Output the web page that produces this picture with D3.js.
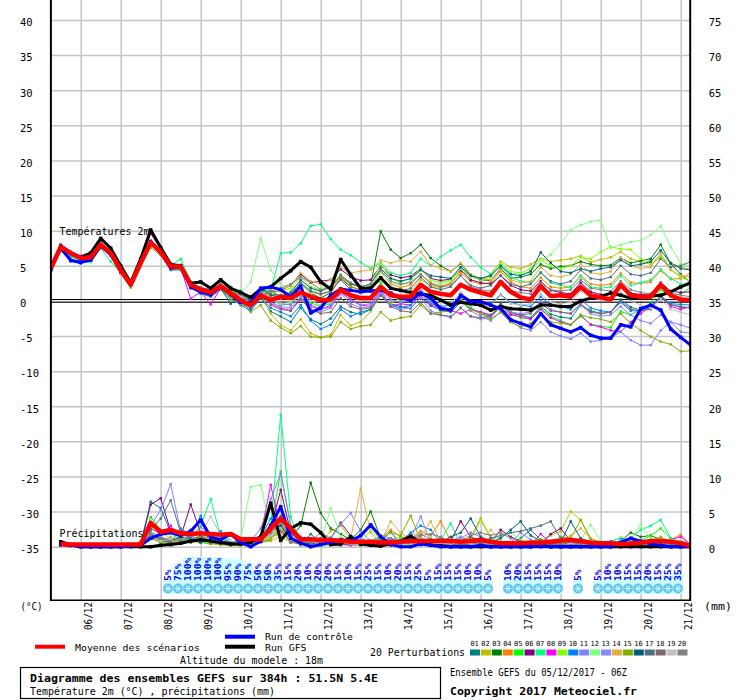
<!DOCTYPE html>
<html>
<head>
<meta charset="utf-8">
<script src="https://cdn.jsdelivr.net/npm/d3@7"></script>
<style>
html,body{margin:0;padding:0;background:#fff;}
svg{display:block;}
text{font-family:"DejaVu Sans Mono",monospace;}
</style>
</head>
<body>
<svg id="chart" width="740" height="700"></svg>
<script>
// ---------- categories / ticks ----------
const dayLabels = ["06/12","07/12","08/12","09/12","10/12","11/12","12/12","13/12","14/12","15/12","16/12","17/12","18/12","19/12","20/12","21/12"];
const dayTickHours = [18,42,66,90,114,138,162,186,210,234,258,282,306,330,354,378];
const tempTicks = [40,35,30,25,20,15,10,5,0,-5,-10,-15,-20,-25,-30,-35];
const precTicks = [75,70,65,60,55,50,45,40,35,30,25,20,15,10,5,0];
const memberLabels = ["01","02","03","04","05","06","07","08","09","10","11","12","13","14","15","16","17","18","19","20"];
const memberColors = ["#008080","#c0c000","#008000","#ff8000","#00ff00","#800080","#00ff80","#ff00ff","#80ff00","#0080ff","#8080ff","#80ff80","#8888ff","#e0b040","#80b000","#006080","#507080","#806870","#c0c0c0","#808080"];
const stepHours = 6;

// ---------- temperature 2m (°C), every 6 h from 05/12 06Z ----------
const tempMean = [4.6,7.7,6.8,6.1,6.2,8.0,6.8,4.4,2.3,5.4,8.3,7.0,4.9,4.9,2.3,1.6,1.2,2.1,1.1,0.1,-0.6,0.8,0.1,0.6,0.4,1.2,0.6,0.1,0.2,1.6,0.8,0.4,0.4,2.0,0.8,0.6,0.6,2.3,1.3,1.0,0.8,2.3,1.6,1.2,0.8,2.7,1.3,0.5,0.2,2.1,0.7,0.8,0.6,2.0,0.8,0.5,0.2,2.3,0.8,0.6,0.6,2.3,0.8,0.2,0.1];
const tempGFS = [4.4,7.8,6.8,6.2,6.8,8.9,7.5,5.0,2.6,6.0,10.1,7.6,5.2,5.0,2.5,2.7,1.8,3.0,1.8,1.2,0.5,1.7,2.0,3.2,4.3,5.6,4.8,2.7,1.7,5.9,3.7,1.8,1.8,3.3,1.8,1.5,1.2,1.0,0.8,0.1,-0.6,-0.2,-0.4,-0.6,-1.3,-0.8,-1.1,-1.2,-1.3,-0.6,-0.6,-0.8,-0.8,0.0,0.4,0.6,1.1,0.8,0.4,0.4,0.7,0.8,1.3,2.0,2.6];
const tempControl = [4.5,7.5,5.8,5.5,5.8,7.8,6.6,4.2,2.4,5.6,8.4,6.9,4.7,4.8,2.0,1.3,0.9,2.0,0.9,-0.2,-0.3,1.8,2.0,1.6,0.6,2.1,-1.7,-1.0,0.8,1.7,1.5,1.3,1.4,1.55,1.1,0.4,0.1,1.1,0.4,-1.1,-1.3,0.8,-0.1,-0.1,-0.6,-1.1,-2.7,-3.2,-3.7,-1.8,-3.4,-3.9,-4.4,-3.8,-4.9,-5.3,-5.3,-3.4,-3.7,-1.1,-0.6,-1.3,-4.0,-5.2,-6.3];
const tP01 = [4.3,7.4,6.6,5.9,6.0,7.8,6.6,4.2,2.2,5.2,8.1,6.7,4.6,4.5,2.0,1.2,0.8,1.8,0.6,-0.3,-1.2,0.5,-1.5,-2.2,-3.0,-1.0,-2.6,-3.3,-2.5,-0.8,-1.6,-1.9,-1.2,0.9,-0.4,-0.8,-1.1,0.5,-0.7,-1.3,-1.6,-0.2,-1.0,-1.8,-2.2,-0.4,-1.6,-2.0,-2.4,-0.8,-1.9,-2.3,-2.5,-0.6,-1.4,-1.8,-1.6,0.2,-0.9,-1.3,-1.0,0.8,-0.5,-0.9,-1.0];
const tP02 = [4.8,7.9,6.9,6.3,6.4,8.2,7.0,4.6,2.4,5.6,8.6,7.2,5.0,5.1,2.6,1.8,1.4,2.3,1.5,0.4,-0.8,1.0,-1.8,-3.4,-4.2,-2.6,-4.6,-5.2,-4.8,-2.0,-3.5,-3.0,-1.5,0.8,-0.4,0.5,1.4,3.0,2.2,1.8,2.6,4.2,3.6,3.0,3.8,5.6,4.8,4.6,5.2,6.0,5.6,5.8,6.0,6.4,5.5,5.9,6.2,7.0,6.0,5.6,5.2,6.2,5.4,4.8,4.5];
const tP03 = [4.5,7.6,6.8,6.2,6.5,8.1,6.9,4.5,2.5,5.5,8.2,7.3,5.1,5.0,2.5,1.7,1.5,2.2,1.3,1.0,0.2,1.3,1.4,0.6,0.8,2.5,1.1,0.4,1.2,3.2,2.0,1.6,2.2,9.9,7.3,6.1,6.8,8.0,6.1,5.0,4.2,5.3,3.6,3.0,2.9,4.6,3.2,3.4,3.8,5.2,4.6,4.9,5.0,5.6,5.2,5.0,5.1,6.1,5.4,5.7,6.0,8.0,5.3,3.8,2.6];
const tP04 = [4.7,7.8,6.5,5.8,6.1,7.9,6.4,3.9,1.9,5.3,8.0,6.9,4.6,4.8,2.2,1.5,1.0,1.9,0.9,0.2,-0.4,1.2,0.6,0.3,0.9,2.5,1.3,0.9,1.4,3.4,2.1,1.5,1.8,4.2,2.4,1.9,2.3,3.8,2.6,2.1,2.5,4.0,2.8,2.4,2.6,4.2,2.7,2.0,1.8,3.3,2.0,1.8,2.0,3.6,2.4,2.2,2.4,3.9,2.6,2.5,2.7,4.3,3.1,3.2,4.0];
const tP05 = [4.4,7.5,6.9,6.3,6.6,8.3,7.1,4.6,2.4,5.8,8.4,7.2,5.1,4.9,2.1,1.4,1.1,2.0,0.8,0.3,-0.5,0.8,0.3,-0.6,-0.4,1.2,-0.3,-0.8,-0.4,1.6,0.5,0.2,0.4,2.6,0.8,0.1,0.3,1.4,-0.2,-0.8,-1.2,0.4,-1.1,-1.6,-2.0,-0.6,-1.8,-2.4,-2.6,-1.0,-2.2,-2.8,-3.4,-2.2,-3.3,-3.6,-3.8,-1.5,-2.0,-1.2,-0.4,1.6,0.6,1.0,1.9];
const tP06 = [4.6,7.7,7.0,6.4,6.9,8.1,7.2,4.8,2.6,5.6,8.5,7.4,5.2,4.7,2.4,1.9,1.6,2.4,1.2,0.5,0.0,0.9,1.2,1.5,2.2,3.8,2.6,2.8,3.0,4.5,3.4,2.9,3.0,5.0,3.7,3.3,3.5,4.6,3.2,2.9,3.1,4.4,3.0,2.6,2.4,3.6,2.2,1.6,1.4,2.8,1.5,1.2,1.0,2.6,1.3,0.9,1.0,2.3,1.1,0.9,1.0,2.6,1.4,1.2,1.3];
const tP07 = [4.9,7.6,6.3,5.7,5.5,7.5,5.6,4.0,2.0,5.7,8.0,6.8,5.0,6.0,2.8,1.9,1.4,2.5,1.4,1.5,0.4,1.4,1.6,6.8,6.9,8.2,10.7,10.9,8.8,7.3,6.5,5.5,4.6,5.4,4.0,3.6,4.0,6.0,5.0,6.3,7.2,8.0,6.2,4.8,3.8,5.0,3.4,2.8,2.6,4.1,2.6,2.2,2.0,3.5,2.0,1.8,2.0,3.6,2.2,2.6,3.0,4.5,3.2,2.4,2.0];
const tP08 = [4.5,7.8,6.7,6.2,6.3,8.4,7.0,4.3,2.2,5.7,9.6,7.4,4.8,4.7,0.3,1.3,-0.5,1.8,0.9,-0.3,-0.9,1.0,-0.4,-1.0,-1.4,0.4,-0.6,-1.2,-0.8,1.2,0.2,-0.6,-0.8,1.6,-0.8,-0.4,-0.6,0.8,-0.6,-1.0,-1.4,-1.8,-1.2,-1.6,-2.0,-1.0,-2.0,-2.2,-2.6,-1.2,-2.4,-3.0,-3.4,-2.0,-3.4,-3.7,-4.2,-4.4,-3.0,-1.8,-0.8,0.6,-0.8,-1.2,-0.8];
const tP09 = [4.7,7.7,6.6,6.0,6.2,7.9,6.7,4.4,2.3,5.4,8.3,6.9,4.9,4.8,2.3,1.6,1.2,2.2,1.6,0.9,0.2,1.0,1.1,1.4,1.8,3.4,2.0,1.6,2.0,3.8,2.4,2.0,2.4,5.2,3.2,2.6,3.2,4.6,3.0,2.6,3.0,4.8,3.4,3.0,3.4,5.4,4.2,4.0,4.6,5.8,5.0,4.6,5.0,6.2,6.0,7.0,7.7,7.4,7.3,6.0,5.4,6.4,4.4,3.4,2.7];
const tP10 = [4.2,7.3,5.6,5.3,5.9,7.7,6.5,4.1,2.1,5.1,8.0,6.6,4.4,4.4,1.9,1.0,0.6,1.6,0.3,-0.6,-1.4,0.4,-1.0,-1.6,-2.2,-0.6,-2.8,-4.0,-3.4,-1.2,-2.2,-1.6,-1.2,1.0,-0.6,-1.0,-0.6,1.2,-0.4,-0.8,-0.6,0.8,-0.4,-0.6,-0.4,0.9,-0.2,-0.6,-0.8,0.6,-0.6,-0.8,-1.2,0.2,-1.0,-1.4,-1.6,-0.2,-1.4,-1.4,-0.8,0.6,-0.4,-0.5,-0.6];
const tP11 = [4.8,8.1,7.1,6.3,6.4,8.2,6.9,4.5,2.3,5.5,8.4,7.1,5.0,5.0,2.2,1.4,1.0,2.0,0.7,0.2,-0.8,1.4,0.2,-0.4,-0.6,1.0,-0.8,-1.2,-0.6,1.4,0.0,-0.6,-0.4,1.6,0.2,-0.2,0.0,1.4,-0.2,-0.8,-1.2,0.2,-1.4,-2.2,-2.8,-1.6,-3.0,-3.8,-4.2,-3.0,-4.4,-5.0,-5.4,-4.6,-5.8,-5.6,-5.2,-4.4,-5.6,-6.3,-6.3,-4.2,-3.0,-3.4,-3.9];
const tP12 = [4.6,7.8,6.7,6.0,5.6,7.9,6.5,4.2,2.1,5.2,8.1,6.8,4.7,5.2,2.4,1.8,1.5,2.3,2.0,1.0,2.7,8.9,4.4,2.4,1.6,2.6,1.0,1.8,2.0,3.6,2.4,2.0,2.2,4.0,2.6,2.2,2.8,4.4,3.0,2.4,2.8,4.6,3.4,3.2,3.6,5.2,4.0,3.8,4.2,5.8,6.6,8.2,10.1,10.8,11.3,11.5,7.5,8.0,8.4,8.6,9.4,10.6,7.7,5.4,4.9];
const tP13 = [4.9,8.0,6.9,6.1,6.3,8.0,6.8,4.4,2.4,5.5,8.2,7.0,4.9,4.8,2.3,1.6,1.3,2.1,1.1,0.0,-0.6,1.2,-0.2,-0.8,-1.0,0.6,-1.2,-1.6,-1.0,1.0,-0.4,-1.0,-0.8,1.2,-0.6,-1.2,-1.0,0.4,-1.4,-2.0,-2.4,-1.0,-2.2,-2.6,-2.4,-0.8,-1.6,-1.8,-1.6,0.0,-1.2,-1.6,-1.8,-0.6,-1.8,-2.2,-2.0,-0.8,-2.0,-2.8,-3.2,-2.0,-3.0,-4.4,-4.6];
const tP14 = [4.6,7.7,6.8,6.2,6.2,8.1,6.9,3.8,2.2,5.3,8.0,7.0,4.7,4.6,2.0,1.5,1.2,1.7,0.5,1.2,0.6,1.8,1.8,1.6,2.2,4.0,2.8,2.4,3.0,4.8,4.0,4.2,4.4,5.8,5.4,5.8,5.6,7.0,5.1,4.6,4.2,5.4,3.8,3.2,3.0,4.4,3.0,2.6,2.8,4.8,3.6,3.4,3.8,5.2,4.0,3.8,4.2,6.2,5.0,4.6,4.8,6.8,4.4,3.6,3.4];
const tP15 = [4.4,7.6,6.7,6.1,6.1,7.8,6.7,4.3,2.2,5.0,7.6,6.5,4.5,4.5,2.0,1.3,0.9,1.9,0.2,-0.4,-1.6,-0.6,-2.8,-3.8,-4.6,-3.6,-5.1,-5.2,-5.1,-3.0,-4.0,-3.6,-3.4,-1.6,-2.8,-2.4,-2.2,-0.6,-1.8,-1.6,-1.4,0.0,-1.2,-1.8,-2.6,-1.6,-3.0,-3.7,-3.2,-2.0,-3.0,-3.2,-3.4,-2.0,-2.4,-2.6,-3.0,-1.8,-3.2,-4.2,-5.1,-5.8,-6.2,-7.2,-7.1];
const tP16 = [4.3,7.5,6.5,5.9,6.3,7.9,6.6,4.3,2.3,5.3,8.2,6.9,4.8,4.7,1.8,1.2,0.8,1.8,-0.4,0.6,0.0,1.8,0.8,0.6,1.2,3.0,1.8,1.4,2.0,3.6,2.4,2.0,2.4,4.6,3.2,2.8,3.2,4.4,3.6,3.4,3.2,4.8,3.6,3.2,3.6,5.0,3.8,3.6,4.2,6.9,5.4,4.2,4.0,4.6,4.2,4.6,4.8,5.8,5.0,5.2,5.6,7.2,5.4,4.6,4.4];
const tP17 = [4.5,7.6,6.6,6.0,6.1,8.0,6.8,4.4,2.3,5.4,8.3,7.0,4.9,4.9,2.3,1.6,1.2,2.0,1.0,0.8,0.2,1.0,1.0,0.8,1.0,2.6,1.4,1.0,1.4,3.0,1.6,1.2,1.6,3.2,1.8,1.4,1.8,3.4,2.0,1.6,2.0,3.6,2.2,1.8,2.2,3.6,2.4,2.0,2.4,4.0,2.8,2.4,2.8,4.4,3.2,3.0,3.4,5.0,3.8,3.6,4.0,6.0,4.8,5.0,5.6];
const tP18 = [4.7,7.9,6.8,6.2,6.5,8.2,7.1,4.7,2.5,5.6,8.6,7.3,5.2,5.1,2.6,1.9,1.5,2.4,1.4,-0.2,-0.8,1.0,-0.6,-1.2,-1.4,0.2,-1.2,-1.8,-1.6,0.4,-0.8,-1.2,-1.0,0.8,-0.8,-1.4,-1.6,-0.2,-1.8,-2.0,-2.2,-1.0,-2.2,-2.4,-2.2,-0.6,-1.8,-2.0,-1.8,-0.4,-1.4,-1.6,-1.8,-0.4,-1.6,-1.8,-1.6,0.0,-1.2,-1.4,-1.2,0.6,-0.6,-0.8,-1.0];
const tP19 = [4.6,7.8,7.0,6.3,6.4,8.1,6.9,4.6,2.4,5.4,8.4,7.1,5.0,4.9,2.4,1.7,1.3,2.2,1.2,0.6,-0.2,1.4,0.2,-0.4,-0.2,1.6,0.0,-0.6,-0.2,1.8,0.6,0.0,0.2,2.2,0.8,0.4,0.6,1.8,0.2,-0.2,-0.4,1.2,0.0,-0.4,-0.6,0.8,-0.4,-0.6,-0.4,1.0,-0.2,-0.4,-0.2,1.4,0.4,0.2,0.0,1.2,0.0,-0.6,-1.0,0.2,-1.2,-1.6,-2.0];
const tP20 = [4.3,7.4,6.6,6.0,6.2,8.3,7.0,4.5,2.2,5.2,8.1,6.8,4.7,5.0,2.2,1.9,1.1,2.3,1.3,0.9,0.4,1.2,1.4,1.8,2.4,3.4,2.6,1.6,1.8,3.6,2.6,2.0,2.4,4.4,2.8,2.4,2.6,3.8,2.4,2.0,2.2,3.6,2.0,1.6,1.4,2.8,1.4,1.2,1.0,2.6,1.6,1.4,1.6,3.0,1.8,1.6,1.4,2.8,1.6,1.2,1.0,2.6,1.2,0.8,0.6];

// ---------- 6 h precipitation (mm), from 05/12 12Z ----------
const precFirstHour = 6;
const precMean = [0.4,0.3,0.3,0.3,0.3,0.3,0.3,0.3,0.3,3.4,2.1,2.4,1.9,1.8,1.9,1.8,1.7,1.8,1.05,1.05,1.05,2.6,4.0,2.6,1.05,1.05,0.95,0.95,0.85,0.7,0.7,0.7,0.6,0.6,0.7,0.8,0.8,0.8,0.8,0.8,0.7,0.8,0.95,0.7,0.5,0.5,0.5,0.55,0.55,0.7,0.85,0.95,0.8,0.55,0.5,0.5,0.4,0.45,0.55,0.8,0.8,0.7,0.5,0.1];
const precGFS = [0.7,0.3,0,0,0,0,0,0,0,0,0.2,0.3,0.5,0.8,1.0,0.8,0.6,0.4,0.4,0.6,1.4,6.2,0.9,2.6,3.4,3.2,2.0,0.3,0.4,1.4,0.4,0.2,0.1,0.4,0.8,1.5,0.6,0.2,0.1,0,0,0,0,0,0,0,0,0,0.2,0,0,0,0,0,0,0,0,0,0,0,0,0,0,0];
const precControl = [0.3,0.2,0,0,0,0,0,0.1,0.2,1.2,1.8,2.0,1.6,2.2,3.8,1.4,1.0,1.8,0.6,0.0,0.8,3.0,5.7,1.2,0.5,0.0,0.3,0.6,1.0,0.8,1.6,3.1,1.4,0.3,0.0,0.0,0.4,0.2,0.0,0.0,0,0,0.2,0,0,0,0,0,0,0,0,0,0,0,0,0,0.6,1.2,0.8,0.4,0.2,0,0,0];
const pP01 = [0.3,0.2,0.1,0,0,0,0,0,0.4,6.4,5.5,2.0,1.2,1.0,1.6,0.8,1.2,0.6,0.4,0.3,0.6,1.0,2.6,1.2,0.2,1.8,0.6,0.3,0.2,0.8,0.4,0.2,0.8,2.1,0.4,0.3,0.6,0.2,0.1,0.3,0.2,0.6,1.0,0.8,0.6,0.4,1.2,2.4,1.0,0.6,0.4,0.6,0.2,0.3,0.1,0.2,0.3,0.6,0.4,0.2,0.1,0.2,0.4,0.1];
const pP02 = [0.2,0.1,0,0,0,0,0,0,0.6,1.6,1.2,0.4,1.4,0.8,0.6,0.9,0.3,0.2,0.1,0.4,0.6,0.8,1.5,0.6,1.4,0.8,0.6,2.2,3.0,1.2,0.4,0.6,0.3,1.0,1.4,0.6,0.3,0.8,0.4,0.5,1.4,0.8,0.4,0.2,0.3,0.6,0.4,0.3,0.8,1.6,2.2,5.0,3.8,1.2,0.6,0.4,0.6,0.4,0.2,0.3,0.5,0.2,0.4,0.1];
const pP03 = [0.3,0.2,0,0,0,0,0,0,0.2,1.8,0.8,0.6,2.4,1.0,1.4,0.6,0.4,0.2,0.3,0.5,1.0,2.8,3.0,1.2,3.0,9.1,4.8,2.6,1.8,1.0,2.4,5.0,1.2,0.8,0.4,0.6,0.2,0.5,0.3,0.2,0.4,1.2,0.6,0.3,0.2,0.4,0.2,0.5,0.3,0.4,0.6,0.3,0.2,0.4,0.3,0.6,0.8,2.0,1.4,1.6,1.0,0.6,0.3,0.1];
const pP04 = [0.2,0.1,0,0,0,0,0,0,0.1,1.2,0.8,1.4,1.0,2.4,1.2,1.8,0.6,0.4,0.2,0.3,0.8,1.6,3.4,1.0,0.3,0.2,0.6,0.4,0.3,0.6,0.8,0.4,1.2,2.4,1.4,1.2,2.2,1.6,3.6,0.8,0.6,1.4,4.0,1.2,0.6,0.4,0.3,0.2,0.1,0.2,0.4,0.3,0.2,0.1,0.2,0.3,0.4,0.6,0.3,0.5,0.8,1.0,1.7,0.2];
const pP05 = [0.3,0.2,0,0,0,0,0,0,0.2,4.2,2.4,1.0,0.8,1.2,0.6,0.4,0.8,0.5,0.3,0.6,1.2,2.4,10.7,3.0,0.4,0.6,0.2,0.3,0.5,0.4,0.2,0.6,0.3,0.2,0.4,0.6,0.3,0.2,0.4,0.3,0.2,0.3,0.5,0.4,0.6,0.3,0.2,0.3,0.4,0.2,0.6,0.3,0.2,0.4,0.3,0.2,0.5,1.0,0.8,1.6,2.6,1.2,0.4,0.2];
const pP06 = [0.2,0.1,0,0,0,0,0,0,0.3,6.0,6.9,2.2,1.4,6.0,2.0,1.2,1.0,1.6,0.6,0.4,1.2,2.6,8.1,2.0,0.6,0.4,0.8,1.2,3.4,1.6,0.6,0.4,0.8,1.2,0.6,0.4,1.0,0.6,1.2,0.8,3.6,1.4,0.8,0.6,2.4,1.4,0.8,0.6,0.4,1.8,2.6,0.8,0.4,0.3,0.2,0.5,0.3,0.2,0.4,0.3,0.6,0.4,0.8,0.3];
const pP07 = [0.3,0.2,0,0,0,0,0,0,0.4,3.4,1.6,2.0,0.8,1.2,3.0,6.8,1.4,0.8,0.6,1.0,1.6,3.0,18.8,4.2,0.6,0.4,0.8,1.4,0.6,0.4,0.5,0.3,0.6,0.4,1.2,0.8,1.4,0.6,1.0,3.3,0.3,0.6,0.4,0.3,0.2,0.4,0.3,0.2,0.3,0.5,0.4,0.6,0.3,0.2,0.4,0.6,0.8,1.2,2.4,3.0,3.8,1.2,0.6,0.2];
const pP08 = [0.2,0.1,0,0,0,0,0,0,0.3,2.6,1.8,3.0,0.8,1.6,0.6,1.2,0.8,0.6,0.4,0.8,1.6,8.8,2.4,1.0,0.6,0.8,0.4,0.6,0.3,0.2,0.4,0.6,0.3,0.2,0.4,0.3,0.6,0.8,0.4,0.2,0.3,0.6,0.4,0.2,0.3,0.4,0.3,0.2,1.8,0.6,0.3,0.2,0.4,0.3,0.2,0.4,0.3,0.2,0.4,0.6,0.8,1.0,1.4,0.3];
const pP09 = [0.3,0.2,0,0,0,0,0,0,0.5,2.2,1.4,0.8,1.0,0.6,1.2,0.8,0.4,0.3,0.6,0.4,0.8,1.6,2.8,1.0,0.8,0.6,0.4,0.6,1.0,0.8,0.6,2.4,1.0,0.6,0.4,0.3,0.8,1.2,0.6,0.4,0.4,1.0,3.8,1.2,0.6,0.3,0.2,0.4,0.6,0.8,0.6,0.4,0.3,0.5,0.6,0.4,0.3,0.5,0.8,0.4,0.6,1.0,0.8,0.2];
const pP10 = [0.3,0.1,0,0,0,0,0,0,0.2,1.6,1.2,0.6,2.6,1.6,4.4,1.2,2.2,0.8,0.4,0.6,1.4,4.0,5.4,1.6,0.4,0.8,1.2,0.6,0.4,1.6,0.8,0.3,1.4,0.6,0.8,2.0,3.0,2.4,0.6,0.3,0.2,0.4,0.6,0.3,0.2,0.4,0.6,0.3,0.2,0.3,0.4,0.2,0.3,0.6,0.4,0.8,1.2,1.0,0.6,0.4,0.3,0.5,0.4,0.1];
const pP11 = [0.2,0.1,0,0,0,0,0,0,0.4,3.0,5.2,8.9,2.2,1.4,2.8,1.6,0.8,0.6,1.0,0.8,2.6,6.8,10.4,3.0,1.4,0.8,2.0,1.2,3.2,4.8,2.2,0.8,1.6,1.2,0.8,1.2,1.8,1.0,0.6,0.4,1.2,2.0,1.4,0.8,0.6,0.4,0.3,0.2,0.4,0.6,0.8,0.4,0.3,0.2,0.4,0.3,0.2,0.3,0.4,0.6,0.8,0.4,0.3,0.1];
const pP12 = [0.3,0.2,0,0,0,0,0,0,0.4,3.6,2.0,1.2,1.6,0.8,2.0,1.0,0.6,0.4,1.2,8.5,8.8,2.4,1.2,0.8,1.2,0.8,0.6,5.5,1.4,0.8,0.6,0.4,0.4,0.6,0.3,0.2,0.5,0.4,0.6,0.8,0.4,0.3,0.6,0.8,1.4,2.0,1.0,0.6,0.8,0.6,0.4,0.3,1.0,3.1,0.8,0.6,1.4,1.0,3.1,1.2,0.8,0.4,0.3,0.2];
const pP13 = [0.2,0.1,0,0,0,0,0,0,0.3,2.0,1.4,1.0,0.8,1.8,0.6,1.0,0.6,0.4,0.3,0.5,1.0,2.4,3.6,1.4,0.8,0.6,0.4,0.3,0.6,1.4,1.2,0.6,0.4,0.3,0.6,1.2,4.3,0.6,0.4,0.8,1.4,0.6,0.4,0.3,0.2,0.6,2.0,1.0,0.4,0.3,0.2,0.3,0.5,0.4,0.2,0.3,0.4,0.6,0.3,0.2,0.4,0.6,0.3,0.1];
const pP14 = [0.3,0.2,0,0,0,0,0,0,0.2,1.4,0.8,1.2,0.6,2.4,1.0,0.8,0.4,0.3,0.2,0.3,0.6,1.2,2.0,0.8,0.4,0.6,0.3,0.5,0.8,1.2,8.3,2.0,0.6,3.6,2.0,1.0,1.4,3.6,0.6,0.4,0.3,0.6,1.0,2.4,0.8,0.4,0.3,0.2,0.4,0.6,0.8,1.6,2.6,1.2,0.6,0.4,0.3,0.6,0.4,0.8,1.2,0.6,0.4,0.1];
const pP15 = [0.2,0.1,0,0,0,0,0,0,0.8,1.2,0.6,0.4,1.0,0.6,0.8,0.4,0.3,0.2,0.4,0.3,0.6,1.4,2.2,0.8,0.6,0.4,0.8,0.6,1.0,0.6,0.4,0.8,1.2,2.0,1.6,4.4,0.8,0.6,0.4,0.3,0.2,0.4,0.6,0.3,0.2,0.4,0.6,0.8,1.0,0.6,1.4,1.2,3.8,1.0,0.6,0.4,0.3,0.4,0.6,0.8,1.4,0.6,0.3,0.1];
const pP16 = [0.3,0.2,0,0,0,0,0,0,0.2,1.8,1.2,0.8,1.4,1.0,0.6,1.2,0.8,0.6,1.0,0.4,1.2,2.2,3.0,1.0,0.6,0.4,0.8,0.6,0.4,0.3,0.6,0.4,0.8,0.6,0.4,1.2,0.6,1.0,0.6,1.4,2.0,4.0,1.4,0.6,1.2,2.4,3.6,1.6,0.8,0.4,0.6,3.6,1.2,0.6,0.3,0.2,0.4,0.6,0.4,0.8,0.6,0.4,0.2,0.1];
const pP17 = [0.3,0.2,0,0,0,0,0,0,0.4,2.4,4.0,6.6,2.0,1.2,0.8,1.6,0.6,0.4,0.3,0.8,1.4,2.6,4.4,1.2,0.8,0.6,0.4,0.3,0.6,0.4,0.8,0.6,0.4,0.3,0.6,0.8,0.4,0.3,0.6,0.4,0.3,0.4,0.8,1.2,1.6,2.0,2.2,2.6,3.0,3.6,1.2,0.6,0.4,0.3,0.2,0.4,0.6,0.4,0.3,0.5,0.8,0.4,0.2,0.1];
const pP18 = [0.2,0.1,0,0,0,0,0,0,0.6,1.6,1.0,0.6,0.4,0.8,1.2,0.6,0.4,0.3,0.6,0.8,1.0,1.8,2.4,0.6,0.4,0.3,0.6,0.8,0.4,0.3,0.2,0.4,0.3,0.2,0.4,0.6,0.3,0.5,0.4,0.2,0.3,0.4,0.6,0.8,0.6,0.4,0.3,0.2,0.2,0.4,0.3,0.6,0.8,0.5,0.3,0.2,0.3,0.5,0.4,0.3,0.6,0.8,0.4,0.1];
const pP19 = [0.3,0.2,0,0,0,0,0,0,0.4,1.4,0.8,1.0,0.6,2.2,1.8,4.3,1.6,0.8,0.5,0.4,0.8,1.6,2.6,1.0,0.6,0.8,0.4,0.3,0.6,0.4,0.3,0.6,0.5,0.4,0.3,0.6,0.4,0.3,0.5,0.4,0.6,0.4,0.3,0.5,0.8,0.6,0.4,0.3,0.4,0.6,0.8,0.4,0.3,0.2,0.3,0.5,0.6,0.4,0.5,0.3,0.6,0.4,0.3,0.1];
const pP20 = [0.3,0.2,0,0,0,0,0,0,0.3,1.8,1.2,0.8,1.0,0.6,1.4,0.8,0.6,0.4,0.8,1.0,1.4,2.0,3.4,1.2,0.8,0.6,0.4,0.6,0.8,0.5,0.4,0.3,0.4,0.6,0.3,1.0,1.6,1.8,1.4,0.6,0.8,1.6,2.0,1.6,2.0,1.2,0.8,0.6,0.4,0.6,0.3,0.2,0.4,0.3,0.2,0.3,0.4,0.3,0.2,0.4,0.6,0.3,0.2,0.1];

// ---------- snow probability (%) from 72 h ----------
const snowFirstHour = 72;
const snowPct = [5,75,100,100,100,100,95,90,75,50,50,35,15,20,10,20,20,15,10,15,25,15,10,20,15,25,5,15,15,15,10,10,5,null,10,20,15,15,15,10,null,5,null,5,10,10,15,15,20,15,25,35];

// ---------- build ----------
const tempMembers = [tP01,tP02,tP03,tP04,tP05,tP06,tP07,tP08,tP09,tP10,tP11,tP12,tP13,tP14,tP15,tP16,tP17,tP18,tP19,tP20];
const precMembers = [pP01,pP02,pP03,pP04,pP05,pP06,pP07,pP08,pP09,pP10,pP11,pP12,pP13,pP14,pP15,pP16,pP17,pP18,pP19,pP20];

const svg = d3.select("#chart");
const FONT = '"DejaVu Sans Mono", monospace';
const x = d3.scaleLinear().domain([0,384]).range([50.7,690.7]);
const yT = d3.scaleLinear().domain([-35,40]).range([546.7,20]);
const yP = d3.scaleLinear().domain([0,75]).range([546.7,20]);
const snowTop = d3.scaleLinear().domain([0,100]).range([582,557]);

svg.append("rect").attr("width",740).attr("height",700).attr("fill","#fff");

// horizontal grid + left labels
const gL = svg.append("g").attr("transform","translate(50.7,0)")
  .call(d3.axisLeft(yT).tickValues(tempTicks).tickSize(-640).tickFormat(d=>String(d)));
gL.attr("font-family",FONT).attr("font-size",10.5);
gL.select(".domain").remove();
gL.selectAll(".tick line").attr("stroke","#c4c4c4").attr("stroke-width",1.5);
gL.selectAll(".tick text").attr("x",-30.7).attr("dy","0.55em").attr("text-anchor","start").attr("fill","#000");

// right labels (precip)
const gR = svg.append("g").attr("transform","translate(690.7,0)")
  .call(d3.axisRight(yP).tickValues(precTicks).tickSize(0).tickFormat(d=>String(d)));
gR.attr("font-family",FONT).attr("font-size",10.5);
gR.select(".domain").remove();
gR.selectAll(".tick text").attr("x",18).attr("dy","0.55em").attr("text-anchor","start").attr("fill","#000");

// vertical grid + date labels
const gB = svg.append("g").attr("transform","translate(0,600)")
  .call(d3.axisBottom(x).tickValues(dayTickHours).tickSize(-600).tickFormat((d,i)=>dayLabels[i]));
gB.attr("font-family",FONT).attr("font-size",10.5);
gB.select(".domain").remove();
gB.selectAll(".tick line").attr("stroke","#c4c4c4").attr("stroke-width",1.5);
gB.selectAll(".tick text").attr("y",null).attr("dy",null).attr("x",0)
  .attr("transform","translate(11,30) rotate(-90)").attr("text-anchor","start").attr("fill","#000")
  .attr("textLength",28).attr("lengthAdjust","spacingAndGlyphs");

// zero double line
const y0 = yT(0);
[y0-1.4, y0+1.4].forEach(yy=>{
  svg.append("line").attr("x1",x(0)).attr("x2",x(384)).attr("y1",yy).attr("y2",yy)
    .attr("stroke","#000").attr("stroke-width",1.1);
});

// snow probability strip
const snowData = snowPct.map((p,i)=>({h:snowFirstHour+i*stepHours,p})).filter(d=>d.p!==null);
const gS = svg.append("g");
gS.selectAll("rect.sb").data(snowData).join("rect").attr("class","sb")
  .attr("x",d=>x(d.h)-2.7-5).attr("width",10)
  .attr("y",d=>snowTop(d.p)).attr("height",d=>594-snowTop(d.p)).attr("fill","#ccffff");
const flakes = gS.selectAll("g.fl").data(snowData).join("g").attr("class","fl")
  .attr("transform",d=>`translate(${x(d.h)-2.7},588.5)`);
flakes.append("circle").attr("r",4.9).attr("fill","#5cc4ee");
[0,60,120].forEach(a=>{
  flakes.append("line").attr("x1",-3.6).attr("x2",3.6).attr("y1",0).attr("y2",0)
    .attr("transform",`rotate(${a})`).attr("stroke","#d4f3ff").attr("stroke-width",1);
});
gS.selectAll("text.sp").data(snowData).join("text").attr("class","sp")
  .attr("transform",d=>`translate(${x(d.h)-2.7+3},581) rotate(-90)`)
  .attr("font-family",FONT).attr("font-size",8.5).attr("font-weight","bold").attr("fill","#0000ff")
  .attr("textLength",d=>(String(d.p).length+1)*5.85).attr("lengthAdjust","spacingAndGlyphs")
  .text(d=>d.p+"%");

// clip for data
svg.append("clipPath").attr("id","plotclip").append("rect")
  .attr("x",x(0)).attr("y",0).attr("width",640).attr("height",600);
const gD = svg.append("g").attr("clip-path","url(#plotclip)");

const tempSeries = vals => vals.map((v,i)=>({h:i*stepHours,v}));
const precSeries = vals => vals.map((v,i)=>({h:precFirstHour+i*stepHours,v}));
const lineT = d3.line().x(d=>x(d.h)).y(d=>yT(d.v));
const lineP = d3.line().x(d=>x(d.h)).y(d=>yP(d.v));

function drawMember(data, line, yScale, color, width, ms){
  gD.append("path").attr("d",line(data)).attr("fill","none")
    .attr("stroke",color).attr("stroke-width",width).attr("stroke-linejoin","round");
  if(ms>0){
    gD.append("g").selectAll("rect").data(data).join("rect")
      .attr("x",d=>x(d.h)-ms/2).attr("y",d=>yScale(d.v)-ms/2)
      .attr("width",ms).attr("height",ms).attr("fill",color);
  }
}

// precipitation members
precMembers.forEach((m,k)=>drawMember(precSeries(m), lineP, yP, memberColors[k], 1, 2.4));
// temperature members
tempMembers.forEach((m,k)=>drawMember(tempSeries(m), lineT, yT, memberColors[k], 1, 2.4));

// GFS, control, mean
drawMember(precSeries(precGFS), lineP, yP, "#000", 3, 3.5);
drawMember(tempSeries(tempGFS), lineT, yT, "#000", 3, 3.5);
drawMember(precSeries(precControl), lineP, yP, "#0000ff", 3, 3.5);
drawMember(tempSeries(tempControl), lineT, yT, "#0000ff", 3, 3.5);
drawMember(precSeries(precMean), lineP, yP, "#ff0000", 4.5, 0);
drawMember(tempSeries(tempMean), lineT, yT, "#ff0000", 4.5, 0);

// axes frame
svg.append("line").attr("x1",50.9).attr("x2",50.9).attr("y1",0).attr("y2",601).attr("stroke","#000").attr("stroke-width",2);
svg.append("line").attr("x1",690.2).attr("x2",690.2).attr("y1",0).attr("y2",601).attr("stroke","#000").attr("stroke-width",2);
svg.append("line").attr("x1",50).attr("x2",691).attr("y1",600.3).attr("y2",600.3).attr("stroke","#000").attr("stroke-width",1.6);

// in-plot titles
function txt(s, xx, yy, opts={}){
  const t = svg.append("text").attr("x",xx).attr("y",yy).attr("font-family",FONT)
    .attr("font-size",opts.size||10.5).attr("fill",opts.fill||"#000").text(s);
  if(opts.bold) t.attr("font-weight","bold");
  if(opts.len) t.attr("textLength",opts.len).attr("lengthAdjust","spacingAndGlyphs");
  if(opts.anchor) t.attr("text-anchor",opts.anchor);
  return t;
}
txt("Températures 2m", 59.5, 234.5, {len:90});
txt("Précipitations", 59.5, 537, {len:84});
txt("(°C)", 20.5, 610, {len:22});
txt("(mm)", 704, 610, {len:28});

// legend
svg.append("line").attr("x1",225).attr("x2",255).attr("y1",636.7).attr("y2",636.7).attr("stroke","#0000ff").attr("stroke-width",4);
svg.append("line").attr("x1",225).attr("x2",255).attr("y1",646.7).attr("y2",646.7).attr("stroke","#000").attr("stroke-width",4);
svg.append("line").attr("x1",35).attr("x2",65).attr("y1",646.7).attr("y2",646.7).attr("stroke","#ff0000").attr("stroke-width",4);
txt("Run de contrôle", 265, 639.6, {len:88, size:9.3});
txt("Run GFS", 265, 651, {len:41.5, size:9.3});
txt("Moyenne des scénarios", 75, 651, {len:125, size:9.3});
txt("Altitude du modele : 18m", 180, 663.8, {len:143, size:9.8});
txt("20 Perturbations", 370, 655.5, {len:95, size:10});

const gM = svg.append("g");
gM.selectAll("rect").data(memberColors).join("rect")
  .attr("x",(d,i)=>470+i*10.92).attr("y",649.5).attr("width",10).attr("height",6).attr("fill",d=>d);
gM.selectAll("text").data(memberLabels).join("text")
  .attr("x",(d,i)=>470+i*10.92+4.6).attr("y",645.5).attr("text-anchor","middle")
  .attr("font-family",FONT).attr("font-size",7).attr("fill","#000").text(d=>d);

// info box
svg.append("rect").attr("x",20.5).attr("y",667.5).attr("width",420).attr("height",31)
  .attr("fill","none").attr("stroke","#000").attr("stroke-width",1.2);
txt("Diagramme des ensembles GEFS sur 384h : 51.5N 5.4E", 30, 681.5, {bold:true, size:11, len:348});
txt("Température 2m (°C) , précipitations (mm)", 30, 694.5, {len:245});
txt("Ensemble GEFS du 05/12/2017 - 06Z", 450, 676, {len:177});
txt("Copyright 2017 Meteociel.fr", 450, 694.5, {bold:true, size:11, len:187});
</script>
</body>
</html>
